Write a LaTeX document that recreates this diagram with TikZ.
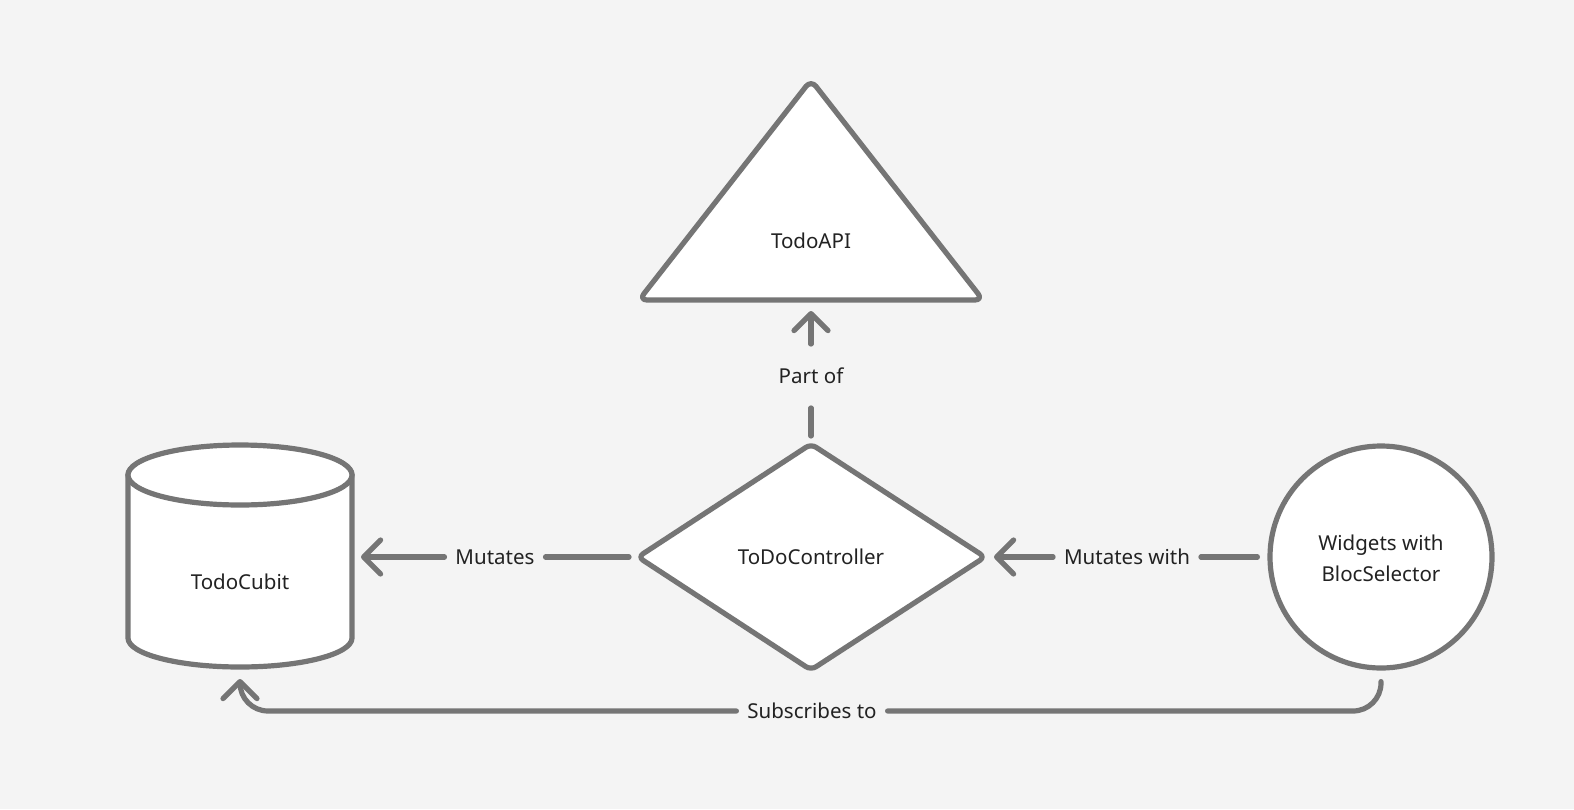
\documentclass[tikz,border=0pt]{standalone}
\usepackage{fontspec}
\setmainfont{Noto Sans}
\usetikzlibrary{arrows.meta}
\definecolor{bg}{HTML}{F4F4F4}
\definecolor{stroke}{HTML}{757575}
\definecolor{ink}{HTML}{222222}
\tikzset{
  shapebox/.style={draw=stroke, fill=white, line width=2.6bp, line join=round},
  conn/.style={draw=stroke, line width=2.6bp, line cap=round, line join=round},
  tip/.style={conn, -{Straight Barb[length=8.5bp,width=17bp,line cap=round,line join=round]}},
  lbl/.style={text=ink, font=\fontsize{10.3}{15.5}\selectfont, inner sep=0pt, outer sep=0pt},
  gap/.style={lbl, inner xsep=5.5bp, inner ysep=0pt, minimum height=14bp},
}
\begin{document}
\begin{tikzpicture}[x=0.5bp,y=-0.5bp]
\fill[bg] (0,0) rectangle (1574,809);
\useasboundingbox (0,0) rectangle (1574,809);

% TodoAPI triangle
\draw[shapebox, rounded corners=4bp] (811,80) -- (983,300) -- (639,300) -- cycle;
\node[lbl] (api) at (811,241) {TodoAPI};
\coordinate (apiS) at (811,300);

% ToDoController diamond
\draw[shapebox, rounded corners=3bp] (811,444) -- (985,557) -- (811,670) -- (638,557) -- cycle;
\node[lbl] (ctrl) at (811,557) {ToDoController};
\coordinate (ctrlN) at (811,444);
\coordinate (ctrlW) at (638,557);
\coordinate (ctrlE) at (985,557);

% TodoCubit cylinder
\draw[shapebox] (128,475) -- (128,638) arc[start angle=180,end angle=0,x radius=112,y radius=29] -- (352,475)
  arc[start angle=0,end angle=-180,x radius=112,y radius=29] -- cycle;
\draw[shapebox] (240,475) ellipse[x radius=112,y radius=30];
\node[lbl] (cubit) at (240,582) {TodoCubit};
\coordinate (cubitE) at (352,557);
\coordinate (cubitS) at (240,667);

% Widgets circle
\node[shapebox, circle, minimum size=111bp, inner sep=0pt] (wid) at (1381,557) {};
\node[lbl, align=center] (widtxt) at (1381,558) {Widgets with\\BlocSelector};

% Part of
\node[gap, inner xsep=0pt, inner ysep=12bp] (lpart) at (811,376) {Part of};
\draw[conn] (ctrlN) ++(0,-8) -- (lpart.south);
\draw[tip] (lpart.north) -- ([yshift=-5.5bp]apiS);

% Mutates
\node[gap] (lmut) at (495,557) {Mutates};
\draw[conn, shorten <=4.5bp] (ctrlW) -- (lmut.east);
\draw[tip, shorten >=4.5bp] (lmut.west) -- (cubitE);

% Mutates with
\node[gap] (lmutw) at (1127,557) {Mutates with};
\draw[conn, shorten <=5bp] (wid.west) -- (lmutw.east);
\draw[tip, shorten >=4.5bp] (lmutw.west) -- (ctrlE);

% Subscribes to
\node[gap] (lsub) at (812,711) {Subscribes to};
\draw[conn, rounded corners=14bp, shorten <=5.5bp] (wid.south) |- (lsub.east);
\draw[tip, rounded corners=14bp, shorten >=6bp] (lsub.west) -| (cubitS);
\end{tikzpicture}
\end{document}
